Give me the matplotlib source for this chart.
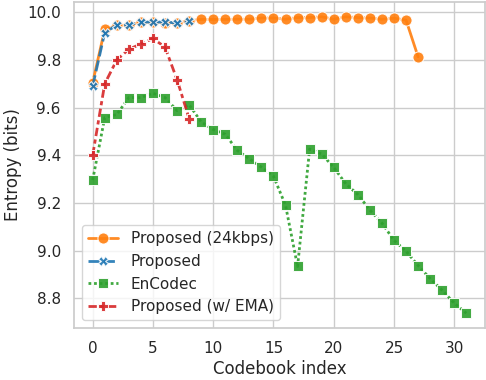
import matplotlib
matplotlib.use("Agg")
import matplotlib.pyplot as plt
import seaborn as sns
import numpy as np

# entropy per codebook (bits)
idx_24k = np.arange(28)
ent_24k = [9.705, 9.928, 9.945, 9.946, 9.958, 9.958, 9.957, 9.955, 9.965,
           9.970, 9.970, 9.970, 9.971, 9.971, 9.976, 9.976, 9.971, 9.978,
           9.978, 9.981, 9.971, 9.981, 9.978, 9.976, 9.971, 9.975, 9.967,
           9.813]

idx_prop = np.arange(9)
ent_prop = [9.690, 9.915, 9.946, 9.947, 9.959, 9.959, 9.959, 9.955, 9.962]

idx_enc = np.arange(32)
ent_enc = [9.296, 9.558, 9.571, 9.642, 9.642, 9.660, 9.642, 9.587, 9.612,
           9.540, 9.508, 9.488, 9.420, 9.385, 9.350, 9.312, 9.190, 8.933,
           9.426, 9.405, 9.349, 9.280, 9.235, 9.170, 9.115, 9.043, 8.997,
           8.937, 8.882, 8.833, 8.779, 8.737]

idx_ema = np.arange(9)
ent_ema = [9.400, 9.700, 9.800, 9.845, 9.867, 9.890, 9.854, 9.717, 9.554]

sns.set_theme(style="whitegrid", context="notebook")
pal = sns.color_palette("tab10")

fig, ax = plt.subplots(figsize=(4.86, 3.80), dpi=100)

kw = dict(markeredgecolor="white", markeredgewidth=0.75, lw=2, alpha=0.9)
ax.plot(idx_24k, ent_24k, color=pal[1], marker="o", ls="-", markersize=8,
        label="Proposed (24kbps)", **kw)
ax.plot(idx_prop, ent_prop, color=pal[0], marker="X", dashes=(4, 1.5),
        markersize=7, label="Proposed", **kw)
ax.plot(idx_enc, ent_enc, color=pal[2], marker="s", dashes=(1, 1),
        markersize=6.5, label="EnCodec", **kw)
ax.plot(idx_ema, ent_ema, color=pal[3], marker="P", dashes=(3, 1.25, 1.5, 1.25),
        markersize=7, label="Proposed (w/ EMA)", **kw)

ax.set_xlabel("Codebook index", labelpad=3)
ax.set_ylabel("Entropy (bits)")
ax.set_xticks([0, 5, 10, 15, 20, 25, 30])
ax.legend(loc="lower left")

fig.subplots_adjust(left=74/486, right=485/486, top=1-2/380, bottom=1-328/380)
fig.savefig("out.png")
